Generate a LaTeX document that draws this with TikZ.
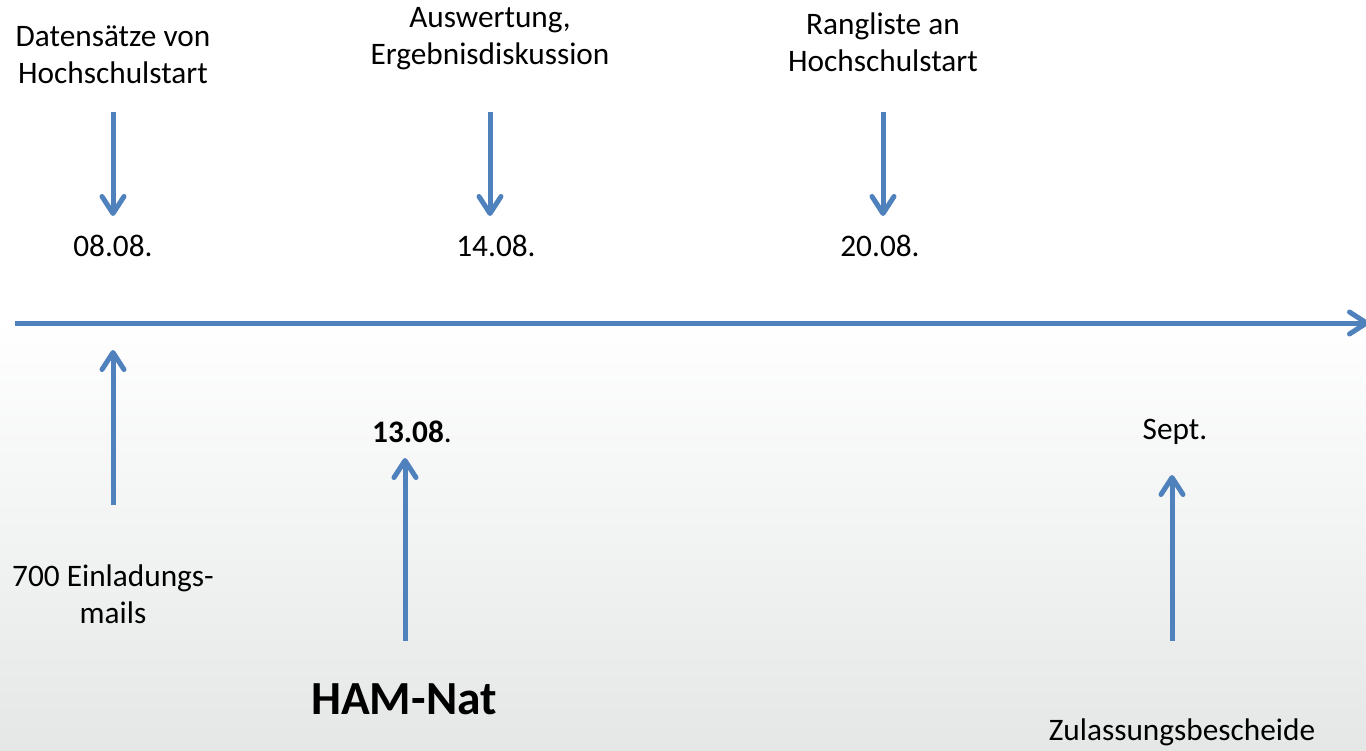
\documentclass[tikz,border=0pt]{standalone}
\usepackage{fontspec}
\setmainfont{Carlito}
\usetikzlibrary{arrows.meta}
\definecolor{zeitblau}{RGB}{79,129,189}
\definecolor{hintergrau}{RGB}{229,231,231}

\begin{document}
\begin{tikzpicture}[x=1pt, y=-1pt,
    txt/.style={align=center, inner sep=0pt, font=\fontsize{31.3}{37}\selectfont},
    pfeil/.style={draw=zeitblau, line width=5pt,
      -{Straight Barb[round, length=17pt, width=22pt]}}]

  \useasboundingbox (0,0) rectangle (1366,750);
  \shade[top color=white, bottom color=hintergrau] (0,318) rectangle (1366,750);

  % Zeitachse
  \coordinate (achseA) at (15,323);
  \coordinate (achseB) at (1369,323);
  \draw[pfeil] (achseA) -- (achseB);

  % oben
  \node[txt] (oben1) at (113,55) {Datensätze von\\Hochschulstart};
  \node[txt] (oben2) at (490,39) {Auswertung,\\Ergebnisdiskussion};
  \node[txt] (oben3) at (883,42) {Rangliste an\\Hochschulstart};
  \node[txt] (datum1) at (113,246) {08.08.};
  \node[txt] (datum2) at (496,246) {14.08.};
  \node[txt] (datum3) at (880,246) {20.08.};
  \foreach \x/\i in {113/1, 490/2, 883/3} {
    \coordinate (ab\i) at (\x,112);
    \coordinate (an\i) at (\x,216);
    \draw[pfeil] (ab\i) -- (an\i);
  }

  % unten
  \node[txt] (datum4) at (412,432) {{\bfseries 13.08}.};
  \node[txt] (datum5) at (1175,432) {Sept.};
  \node[txt] (unten1) at (113,594) {700 Einladungs-\\mails};
  \node[txt, font=\fontsize{47.5}{52}\selectfont\bfseries] (unten2) at (404,699) {HAM-Nat};
  \node[txt] (unten3) at (1182,732) {Zulassungsbescheide};
  \coordinate (auf1a) at (113,505);
  \coordinate (auf1b) at (113,350);
  \coordinate (auf2a) at (405,641);
  \coordinate (auf2b) at (405,458);
  \coordinate (auf3a) at (1172,641);
  \coordinate (auf3b) at (1172,475);
  \draw[pfeil] (auf1a) -- (auf1b);
  \draw[pfeil] (auf2a) -- (auf2b);
  \draw[pfeil] (auf3a) -- (auf3b);
\end{tikzpicture}
\end{document}
